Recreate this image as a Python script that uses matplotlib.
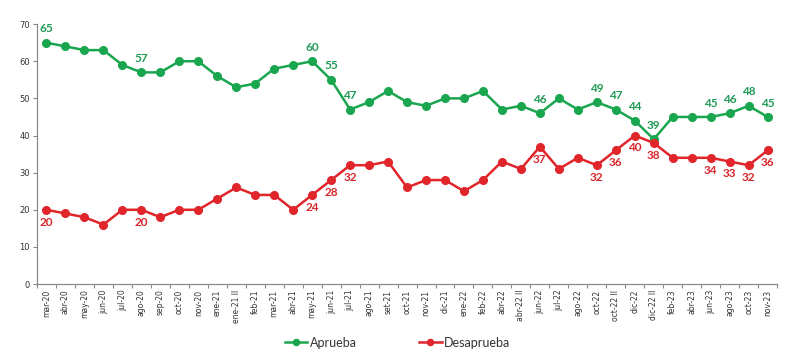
import matplotlib
matplotlib.use("Agg")
import matplotlib.pyplot as plt
from matplotlib.ticker import FixedLocator

categories = ["mar-20", "abr-20", "may-20", "jun-20", "jul-20", "ago-20", "sep-20", "oct-20",
              "nov-20", "ene-21", "ene-21 II", "feb-21", "mar-21", "abr-21", "may-21", "jun-21",
              "jul-21", "ago-21", "set-21", "oct-21", "nov-21", "dic-21", "ene-22", "feb-22",
              "abr-22", "abr-22 II", "jun-22", "jul-22", "ago-22", "oct-22", "oct-22 II", "dic-22",
              "dic-22 II", "feb-23", "abr-23", "jun-23", "ago-23", "oct-23", "nov-23"]

aprueba = [65, 64, 63, 63, 59, 57, 57, 60, 60, 56, 53, 54, 58, 59, 60, 55, 47, 49, 52, 49,
           48, 50, 50, 52, 47, 48, 46, 50, 47, 49, 47, 44, 39, 45, 45, 45, 46, 48, 45]
desaprueba = [20, 19, 18, 16, 20, 20, 18, 20, 20, 23, 26, 24, 24, 20, 24, 28, 32, 32, 33, 26,
              28, 28, 25, 28, 33, 31, 37, 31, 34, 32, 36, 40, 38, 34, 34, 34, 33, 32, 36]

labeled_idx = [0, 5, 14, 15, 16, 26, 29, 30, 31, 32, 35, 36, 37, 38]

green = "#1aa64f"
red = "#e0252b"
green_txt = "#1f9a55"
red_txt = "#d8262c"

fig = plt.figure(figsize=(7.95, 3.6), dpi=100)
ax = fig.add_axes([0.0465, 0.211, 0.931, 0.722])

x = list(range(len(categories)))
ax.plot(x, aprueba, color=green, lw=1.8, marker="o", ms=5.5, label="Aprueba", zorder=3)
ax.plot(x, desaprueba, color=red, lw=1.8, marker="o", ms=5.5, label="Desaprueba", zorder=3)

for i in labeled_idx:
    ax.annotate(str(aprueba[i]), (i, aprueba[i]), xytext=(0, 6), textcoords="offset points",
                ha="center", va="bottom", color=green_txt, fontsize=8.5,
                family="Lato", fontweight="bold")
    ax.annotate(str(desaprueba[i]), (i, desaprueba[i]), xytext=(0, -5), textcoords="offset points",
                ha="center", va="top", color=red_txt, fontsize=8.5,
                family="Lato", fontweight="bold")

ax.set_xlim(-0.5, len(categories) - 0.5)
ax.set_ylim(0, 70)
ax.set_yticks(range(0, 71, 10))
ax.set_xticks(x)
ax.set_xticklabels(categories, rotation=90, fontsize=5.5, color="#333333")
ax.tick_params(axis="x", which="major", length=0, pad=4)
ax.xaxis.set_minor_locator(FixedLocator([i - 0.5 for i in range(len(categories) + 1)]))
ax.tick_params(axis="x", which="minor", length=3, color="#888888", width=0.8)
ax.tick_params(axis="y", length=3, color="#888888", width=0.8, labelsize=6, labelcolor="#333333", pad=2)

for s in ["top", "right"]:
    ax.spines[s].set_visible(False)
for s in ["left", "bottom"]:
    ax.spines[s].set_color("#888888")
    ax.spines[s].set_linewidth(0.9)

leg = fig.legend(loc="lower center", bbox_to_anchor=(0.5, 0.0), ncol=2, frameon=False,
                 prop={"family": "Lato", "size": 9}, handlelength=1.8, handletextpad=0.2,
                 columnspacing=5, markerscale=0.8)
for t in leg.get_texts():
    t.set_color("#333333")

fig.savefig("out.png", dpi=100)
